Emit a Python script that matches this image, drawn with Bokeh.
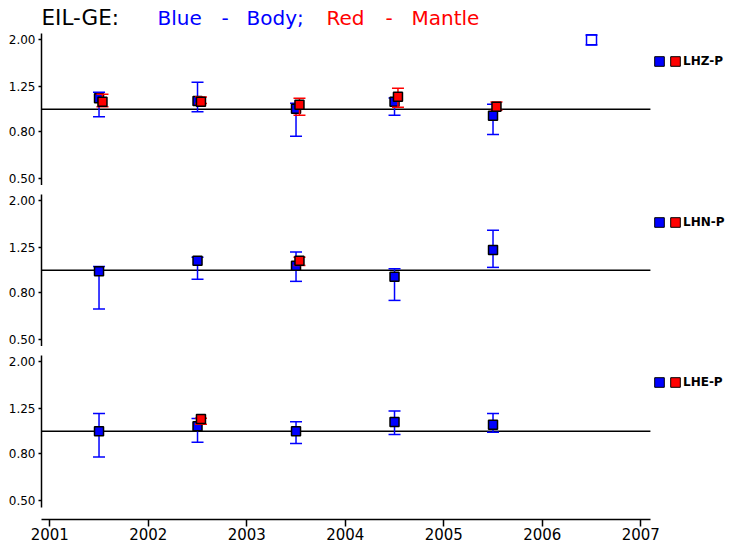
from bokeh.plotting import figure
from bokeh.layouts import column
from bokeh.models import (FixedTicker, PrintfTickFormatter, Label, Legend, LegendItem,
                          ColumnDataSource, Range1d)
from bokeh.embed import file_html
from bokeh.resources import INLINE

# ---------------- data ----------------
years = [2001.5, 2002.5, 2003.5, 2004.5, 2005.5]
x_ticks = [2001, 2002, 2003, 2004, 2005, 2006, 2007]
y_ticks = [0.5, 0.8, 1.25, 2.0]

# LHZ-P
lhz_body = [1.116, 1.086, 1.006, 1.079, 0.938]
lhz_body_lo = [0.929, 0.977, 0.764, 0.942, 0.779]
lhz_body_hi = [1.185, 1.309, 1.062, 1.120, 1.051]
lhz_mantle_years = [2001.5, 2002.5, 2003.5, 2004.5, 2005.5]
lhz_mantle = [1.079, 1.079, 1.047, 1.134, 1.026]
lhz_mantle_lo = [1.026, 1.060, 0.942, 1.020, 0.990]
lhz_mantle_hi = [1.161, 1.130, 1.116, 1.233, 1.076]

# LHN-P
lhn_body = [0.990, 1.100, 1.047, 0.938, 1.224]
lhn_body_lo = [0.680, 0.914, 0.896, 0.741, 1.030]
lhn_body_hi = [1.040, 1.140, 1.200, 1.016, 1.490]
lhn_mantle_years = [2003.5]
lhn_mantle = [1.100]
lhn_mantle_lo = [1.050]
lhn_mantle_hi = [1.140]

# LHE-P
lhe_body = [1.000, 1.051, 1.000, 1.097, 1.069]
lhe_body_lo = [0.774, 0.896, 0.885, 0.968, 0.990]
lhe_body_hi = [1.193, 1.135, 1.101, 1.224, 1.193]
lhe_mantle_years = [2002.5]
lhe_mantle = [1.130]
lhe_mantle_lo = [1.072]
lhe_mantle_hi = [1.140]

# reference (open) symbol in the top panel
ref_year = [2006.5]
ref_val = [2.0]
ref_lo = [1.90]
ref_hi = [2.10]

channels = ["LHZ-P", "LHN-P", "LHE-P"]

# ---------------- style ----------------
FONT = "DejaVu Sans"
BLUE = "#0000ff"
RED = "#ff0000"
MANTLE_SHIFT = 0.035
NAN = float("nan")
XB = (2000.906, 2007.098)          # extent of the x axis line
xr = Range1d(2000.916, 2007.911)


def errbars(p, xs, ys, lo, hi, color, fill, fill_line="black"):
    src = ColumnDataSource(dict(x=xs, y=ys, lo=lo, hi=hi))
    p.segment(x0="x", x1="x", y0="lo", y1="hi", source=src, line_color=color, line_width=1.5)
    p.scatter("x", "lo", marker="dash", size=12, line_color=color, line_width=1.5, source=src)
    p.scatter("x", "hi", marker="dash", size=12, line_color=color, line_width=1.5, source=src)
    p.scatter("x", "y", marker="square", size=9, fill_color=fill, line_color=fill_line,
              line_width=1.5, source=src)


def make_panel(height, top, bottom, y0, y1, label, legend_vy, body, blo, bhi,
               myears, mantle, mlo, mhi, show_x):
    yr = Range1d(y0, y1)
    p = figure(width=730, height=height, x_range=xr, y_range=yr, y_axis_type="log",
               output_backend="svg", toolbar_location=None,
               min_border_left=41, min_border_right=0, min_border_top=top,
               min_border_bottom=bottom,
               x_axis_location="below" if show_x else None,
               outline_line_color=None, background_fill_color="white",
               border_fill_color="white")
    p.grid.visible = False

    ya = p.yaxis[0]
    ya.ticker = FixedTicker(ticks=y_ticks, minor_ticks=[])
    ya.formatter = PrintfTickFormatter(format="%.2f")
    ya.bounds = (0.468, 2.13)
    ya.major_tick_in = 0
    ya.major_tick_out = 3
    ya.minor_tick_line_color = None
    ya.axis_line_width = 1.5
    ya.major_tick_line_width = 1.5
    ya.major_label_standoff = 3
    ya.major_label_text_font = FONT
    ya.major_label_text_font_size = "12px"
    ya.major_label_text_color = "black"

    if show_x:
        xa = p.xaxis[0]
        xa.ticker = FixedTicker(ticks=x_ticks, minor_ticks=[])
        xa.bounds = XB
        xa.major_tick_in = 0
        xa.major_tick_out = 7
        xa.minor_tick_line_color = None
        xa.axis_line_width = 1.5
        xa.major_tick_line_width = 1.5
        xa.major_label_standoff = 1
        xa.major_label_text_font = FONT
        xa.major_label_text_font_size = "15px"
        xa.major_label_text_color = "black"

    # unity reference line
    p.segment(x0=[XB[0]], x1=[XB[1]], y0=[1.0], y1=[1.0], line_color="black", line_width=1.5)

    errbars(p, years, body, blo, bhi, BLUE, BLUE)
    mx = [v + MANTLE_SHIFT for v in myears]
    errbars(p, mx, mantle, mlo, mhi, RED, RED)

    # legend swatches (renderers with no drawable geometry)
    bq = p.quad(left=[NAN], right=[NAN], top=[NAN], bottom=[NAN],
                fill_color=BLUE, line_color="black", line_width=1)
    rq = p.quad(left=[NAN], right=[NAN], top=[NAN], bottom=[NAN],
                fill_color=RED, line_color="black", line_width=1)
    leg = Legend(items=[LegendItem(label="", renderers=[bq]),
                        LegendItem(label=label, renderers=[rq])],
                 orientation="horizontal", location=(612, legend_vy),
                 glyph_width=12, glyph_height=12, label_standoff=2, spacing=2,
                 padding=0, margin=0, label_width=0, label_height=12,
                 border_line_color=None, background_fill_alpha=0,
                 label_text_font=FONT, label_text_font_size="12px",
                 label_text_font_style="bold", label_text_color="black")
    p.add_layout(leg)
    return p


p1 = make_panel(185, 0, 0, 0.468, 2.96, channels[0], 117, lhz_body, lhz_body_lo, lhz_body_hi,
                lhz_mantle_years, lhz_mantle, lhz_mantle_lo, lhz_mantle_hi, False)
p2 = make_panel(161, 9, 0, 0.468, 2.13, channels[1], 117, lhn_body, lhn_body_lo, lhn_body_hi,
                lhn_mantle_years, lhn_mantle, lhn_mantle_lo, lhn_mantle_hi, False)
p3 = make_panel(205, 9, 32, 0.415, 2.13, channels[2], 130, lhe_body, lhe_body_lo, lhe_body_hi,
                lhe_mantle_years, lhe_mantle, lhe_mantle_lo, lhe_mantle_hi, True)

# open reference symbol in the top panel
rsrc = ColumnDataSource(dict(x=ref_year, y=ref_val, lo=ref_lo, hi=ref_hi))
p1.scatter("x", "lo", marker="dash", size=12, line_color=BLUE, line_width=1.5, source=rsrc)
p1.scatter("x", "hi", marker="dash", size=12, line_color=BLUE, line_width=1.5, source=rsrc)
p1.scatter("x", "y", marker="square", size=10, fill_color=None, line_color=BLUE,
           line_width=1.5, source=rsrc)

# title pieces
title_parts = [("EIL-GE:", 0, "black", "21.5px"), ("Blue", 116, BLUE, "20px"),
               ("-", 180, BLUE, "20px"), ("Body;", 205, BLUE, "20px"),
               ("Red", 285, RED, "20px"), ("-", 344, RED, "20px"),
               ("Mantle", 370, RED, "20px")]
for txt, tx, col, fs in title_parts:
    p1.add_layout(Label(x=tx, y=168, x_units="screen", y_units="screen", text=txt,
                        text_color=col, text_font=FONT, text_font_size=fs,
                        text_baseline="alphabetic", text_align="left"))

layout = column(p1, p2, p3, spacing=0)
open("out.html", "w").write(file_html(layout, INLINE))
